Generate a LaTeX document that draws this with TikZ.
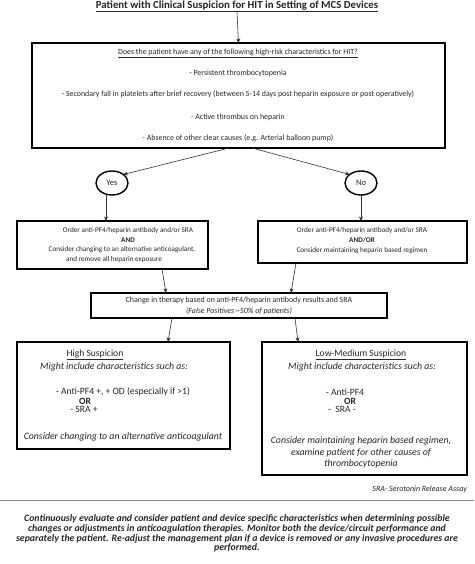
\documentclass[tikz,border=0pt]{standalone}
\usepackage{fontspec}
\setmainfont{Carlito}
\usetikzlibrary{arrows.meta,shapes.geometric}
\newcommand{\fsz}[1]{\fontsize{#1}{#1}\selectfont}
\begin{document}
\begin{tikzpicture}[x=1pt,y=-1pt,
  every node/.style={inner sep=0pt,outer sep=0pt,text=black!85},
  box/.style={draw=black,line width=1.4pt,inner sep=0pt},
  arr/.style={draw=black!80,line width=0.6pt,-{Stealth[length=4.5pt,width=4pt]}},
  txt/.style={font=\fsz{7.2}},
  t1/.style={font=\fsz{7.9}},
  itxt/.style={font=\fsz{9.8}\itshape},
  utxt/.style={font=\fsz{9.6}},
  oval/.style={draw=black,line width=1.4pt,ellipse,minimum width=32pt,minimum height=24pt,font=\fsz{8.5}}
]
\useasboundingbox (0,0) rectangle (474,564);
\fill[white] (0,0) rectangle (474,564);

% title
\node[font=\fsz{10.8}\bfseries] (title) at (237,6.5) {\underline{Patient with Clinical Suspicion for HIT in Setting of MCS Devices}};

% box 1
\node[box,minimum width=413pt,minimum height=105pt] (b1) at (238.5,95.5) {};
\node[t1] (q) at (238,53) {\underline{Does the patient have any of the following high-risk characteristics for HIT?}};
\node[t1] (l1) at (238,73) {- Persistent thrombocytopenia};
\node[t1] (l2) at (238,94) {- Secondary fall in platelets after brief recovery (between 5-14 days post heparin exposure or post operatively)};
\node[t1] (l3) at (238,117) {- Active thrombus on heparin};
\node[t1] (l4) at (238,138) {- Absence of other clear causes (e.g. Arterial balloon pump)};

\draw[arr] (title.south) -- (b1.north);

% yes / no
\node[oval] (yes) at (112,183) {Yes};
\node[oval] (no) at (361,183) {No};
\coordinate (b1y) at (229,148);
\coordinate (b1n) at (252,148);
\draw[arr] (b1y) -- (yes.north east);
\draw[arr] (b1n) -- (no.north west);

% box 2 left
\node[box,minimum width=191pt,minimum height=48pt] (b2l) at (112.5,245) {};
\node[txt] (b2l1) at (128,231) {Order anti-PF4/heparin antibody and/or SRA};
\node[txt,font=\fsz{7.2}\bfseries] (b2l2) at (128,240.5) {AND};
\node[txt] (b2l3) at (122,250) {Consider changing to an alternative anticoagulant,};
\node[txt] (b2l4) at (114,259.5) {and remove all heparin exposure};

% box 2 right
\node[box,minimum width=209pt,minimum height=42pt] (b2r) at (362.5,242) {};
\node[txt] (b2r1) at (362,231) {Order anti-PF4/heparin antibody and/or SRA};
\node[txt,font=\fsz{7.2}\bfseries] (b2r2) at (362,240.5) {AND/OR};
\node[txt] (b2r3) at (362,250.5) {Consider maintaining heparin based regimen};

\draw[arr] (yes.south) ++(-6,0) coordinate (ys) -- (ys |- b2l.north);
\draw[arr] (no.south) -- (no.south |- b2r.north);

% box 3
\node[box,minimum width=296pt,minimum height=25pt] (b3) at (239,305.5) {};
\node[t1] (b31) at (239,300) {Change in therapy based on anti-PF4/heparin antibody results and SRA};
\node[t1,font=\fsz{7.9}\itshape] (b32) at (239,311) {(False Positives \textasciitilde50\% of patients)};

\coordinate (b2lb) at (162,269);
\coordinate (b3lt) at (166,293);
\coordinate (b2rb) at (296,263);
\coordinate (b3rt) at (291,293);
\draw[arr] (b2lb) -- (b3lt);
\draw[arr] (b2rb) -- (b3rt);

% box 4 left
\node[box,minimum width=213pt,minimum height=107pt] (b4l) at (123.5,395.5) {};
\node[utxt] (hs) at (95,355) {\underline{High Suspicion}};
\node[itxt] (hs1) at (114,367) {Might include characteristics such as:};
\node[utxt] (hs2) at (123,392) {- Anti-PF4 +, + OD (especially if >1)};
\node[utxt,font=\fsz{9.6}\bfseries] (hs3) at (85,401) {OR};
\node[utxt] (hs4) at (84,409.5) {- SRA +};
\node[itxt] (hs5) at (123,437) {Consider changing to an alternative anticoagulant};

% box 4 right
\node[box,minimum width=205pt,minimum height=133pt] (b4r) at (364.5,408.5) {};
\node[utxt] (lm) at (361,355) {\underline{Low-Medium Suspicion}};
\node[itxt] (lm1) at (362,367) {Might include characteristics such as:};
\node[utxt] (lm2) at (345,392) {- Anti-PF4};
\node[utxt,font=\fsz{9.6}\bfseries] (lm3) at (350,401) {OR};
\node[utxt] (lm4) at (342,409.5) {-\ \ SRA -};
\node[itxt] (lm5) at (361,441) {Consider maintaining heparin based regimen,};
\node[itxt] (lm6) at (361,452.5) {examine patient for other causes of};
\node[itxt] (lm7) at (361,464) {thrombocytopenia};

\coordinate (b3lb) at (172,318);
\coordinate (b3rb) at (295,318);
\draw[arr] (b3lb) -- (168,342);
\draw[arr] (b3rb) -- (298,342);

% footnote
\node[font=\fsz{8}\itshape,anchor=east] (sra) at (467,489) {SRA- Serotonin Release Assay};

% bottom panel
\draw[black!45,line width=1pt] (0,500) -- (474,500);
\node[font=\fsz{9.8}\bfseries\itshape,align=center] (bot) at (237,533.5)
  {\fontsize{9.8}{13.6}\selectfont Continuously evaluate and consider patient and device specific characteristics when determining possible\\
   changes or adjustments in anticoagulation therapies. Monitor both the device/circuit performance and\\
   separately the patient. Re-adjust the management plan if a device is removed or any invasive procedures are\\
   performed.};
\end{tikzpicture}
\end{document}
